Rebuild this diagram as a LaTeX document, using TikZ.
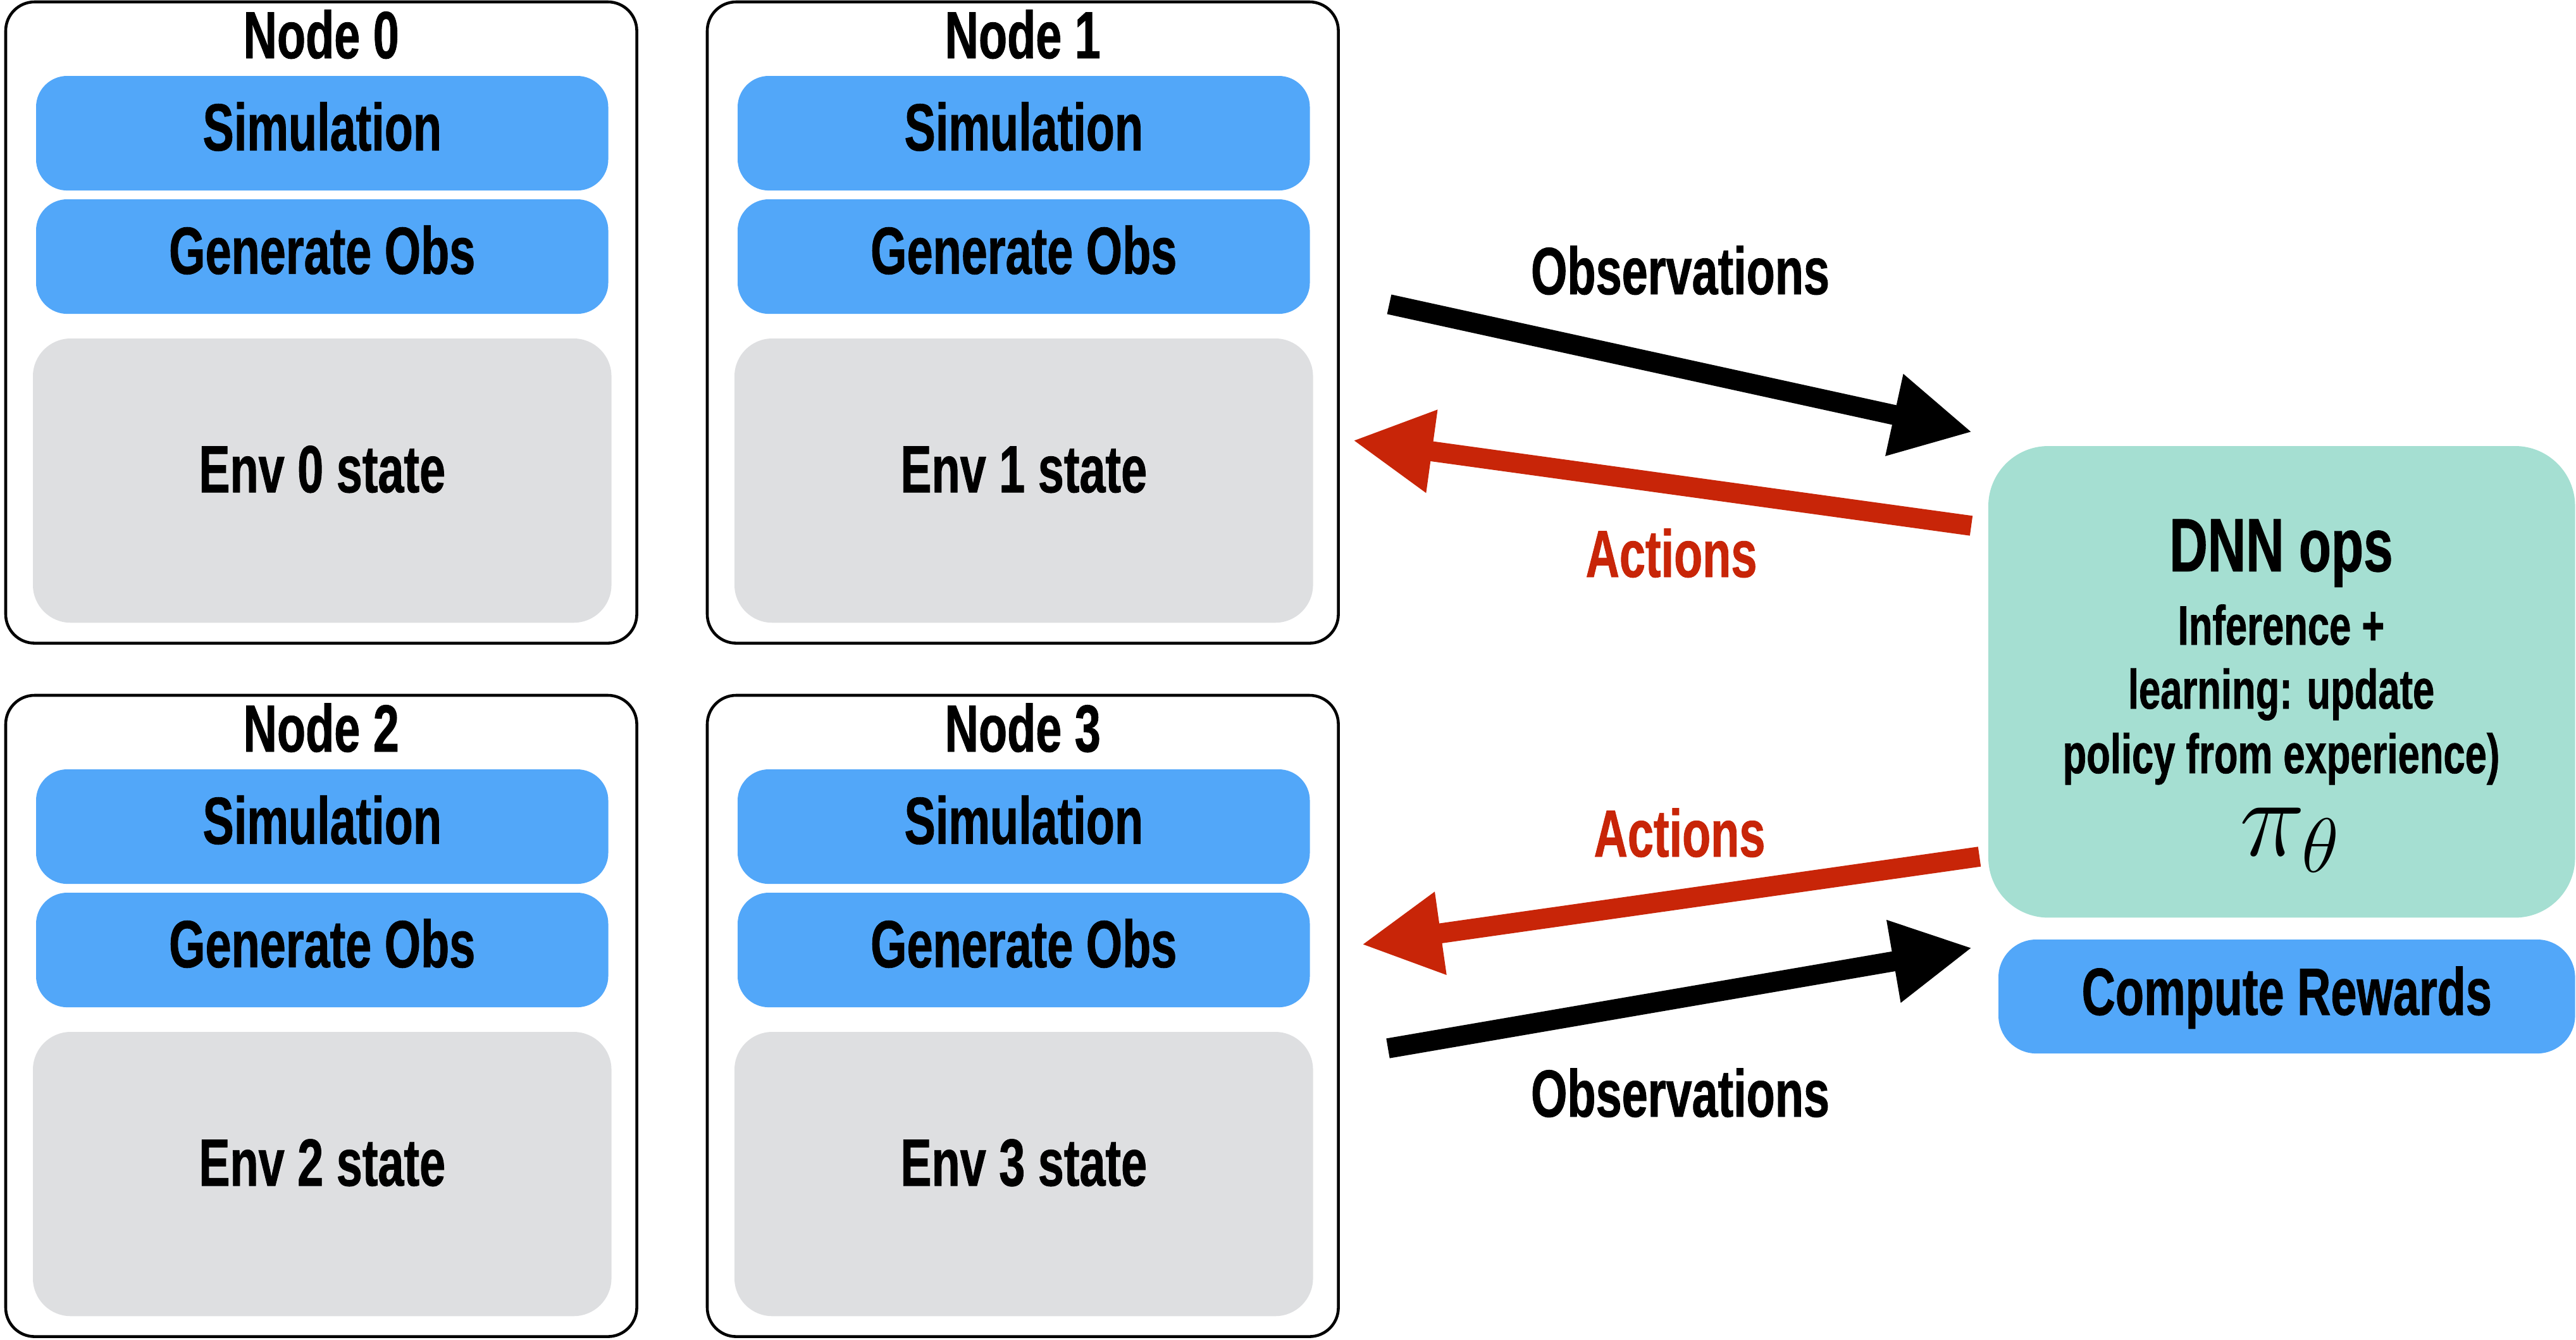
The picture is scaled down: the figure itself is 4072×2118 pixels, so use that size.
\documentclass[tikz,border=0pt]{standalone}
\usepackage{graphicx}
\usepackage{fontspec}
\newfontfamily\cond{Liberation Sans}[FakeStretch=0.7, FakeBold=0.8]
\usetikzlibrary{arrows.meta,calc}

\definecolor{opblue}{RGB}{82,167,249}
\definecolor{envgray}{RGB}{222,223,225}
\definecolor{dnnteal}{RGB}{165,223,210}
\definecolor{actred}{RGB}{200,37,8}

\begin{document}
\begin{tikzpicture}[x=0.01cm,y=-0.01cm,
  every node/.style={inner sep=0pt, outer sep=0pt,
    font=\cond\bfseries\fontsize{30}{36}\selectfont},
  nodebox/.style={draw=black, line width=1.3pt, rounded corners=13pt,
    minimum width=9.97cm, minimum height=10.13cm, anchor=north west},
  opbox/.style={fill=opblue, rounded corners=14pt, anchor=north west,
    minimum width=9.04cm, minimum height=1.81cm,
    text height=21.5pt, text depth=6pt},
  envbox/.style={fill=envgray, rounded corners=17pt, anchor=north west,
    minimum width=9.14cm, minimum height=4.49cm,
    text height=21.5pt, text depth=11pt},
  dnnbox/.style={fill=dnnteal, rounded corners=27pt, anchor=north west,
    minimum width=9.27cm, minimum height=7.45cm},
  rewbox/.style={fill=opblue, rounded corners=17pt, anchor=north west,
    minimum width=9.11cm, minimum height=1.80cm,
    text height=21.5pt, text depth=5pt},
  title/.style={anchor=base},
  small/.style={anchor=base, font=\cond\bfseries\fontsize{25}{30}\selectfont},
  flow/.style={line width=9pt, -{Triangle[length=36pt, width=35pt]}},
]
\useasboundingbox (0,0) rectangle (4072,2118);

% four simulation nodes
\foreach \i/\x/\y in {0/9/3, 1/1118/3, 2/9/1099, 3/1118/1099}{
  \node[nodebox] (n\i) at (\x,\y) {};
  \node[title] (t\i) at ($(n\i.north)+(0,89)$) {Node \i};
  \node[opbox] (sim\i) at (\x+48,\y+117) {Simulation};
  \node[opbox] (gen\i) at (\x+48,\y+312) {Generate Obs};
  \node[envbox] (env\i) at (\x+43,\y+532) {Env \i\ state};
}

% learner side
\node[dnnbox] (dnn) at (3143,705) {};
\node[anchor=base, font=\cond\bfseries\fontsize{34}{40}\selectfont]
  (dnnt) at (3606,903) {DNN ops};
\node[small] (dnn1) at (3606,1019) {Inference +};
\node[small] (dnn2) at (3606,1120) {learning: update};
\node[small] (dnn3) at (3606,1222) {policy from experience)};
\node[anchor=base, font=\fontsize{20}{24}\selectfont] (pol) at (3621,1352)
  {\scalebox{2.4}{$\pi_\theta$}};
\node[rewbox] (rew) at (3159,1485) {Compute Rewards};

% upper exchange
\coordinate (obsA) at (2196,481);
\coordinate (obsB) at (3118,683);
\coordinate (actA) at (3116,831);
\coordinate (actB) at (2138,696);
\draw[flow, black] (obsA) -- (obsB);
\draw[flow, actred] (actA) -- (actB);
\node[anchor=base] (obsL1) at (2656,465) {Observations};
\node[anchor=base, text=actred] (actL1) at (2642,912) {Actions};

% lower exchange
\coordinate (actC) at (3129,1354);
\coordinate (actD) at (2152,1493);
\coordinate (obsC) at (2194,1657);
\coordinate (obsD) at (3118,1498);
\draw[flow, actred] (actC) -- (actD);
\draw[flow, black] (obsC) -- (obsD);
\node[anchor=base, text=actred] (actL2) at (2655,1354) {Actions};
\node[anchor=base] (obsL2) at (2656,1765) {Observations};
\end{tikzpicture}
\end{document}
